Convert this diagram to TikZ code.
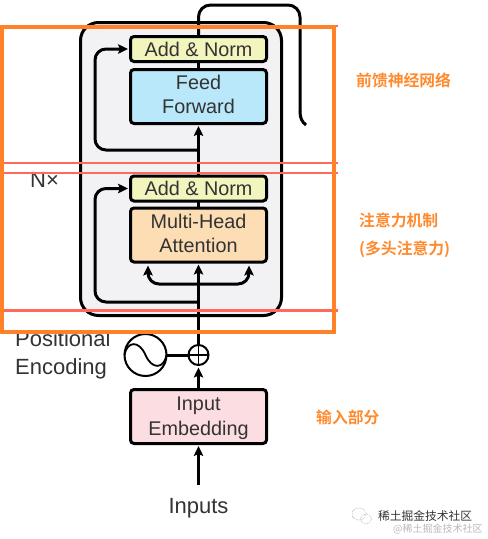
\documentclass[tikz,border=0pt]{standalone}
\usepackage{fontspec}
\setmainfont{Liberation Sans}
\newfontfamily\cjk{Noto Sans CJK SC}[BoldFont={* Bold}]
\usetikzlibrary{arrows.meta}
\definecolor{ink}{HTML}{333333}
\definecolor{frameorange}{HTML}{FF8229}
\definecolor{redline}{HTML}{FF6A5A}
\definecolor{notecol}{HTML}{FF8A2E}
\definecolor{panel}{HTML}{F2F2F5}
\definecolor{normfill}{HTML}{F3F5BE}
\definecolor{fffill}{HTML}{B8E8F9}
\definecolor{mhafill}{HTML}{FCDDB4}
\definecolor{embfill}{HTML}{FCDDE1}
\newcommand{\lineat}[2]{\raisebox{#1}[0pt][0pt]{#2}}
\tikzset{
  x=1pt,y=-1pt,
  block/.style={draw=black,line width=3pt,rounded corners=3.5pt,minimum width=136pt,outer sep=0pt,inner sep=0pt,align=center,text=ink,font=\fontsize{19.8}{24.4}\selectfont},
  normbox/.style={block,minimum height=25pt,fill=normfill},
  tallbox/.style={block,minimum height=54pt},
  wire/.style={draw=black,line width=3pt},
  arrowwire/.style={wire,-{Stealth[length=10pt,width=9.5pt,inset=2pt]},shorten >=2.5pt},
  plain/.style={text=ink,font=\fontsize{22}{28}\selectfont,inner sep=0pt},
  note/.style={text=notecol,font=\cjk\bfseries\fontsize{15.8}{28}\selectfont,inner sep=0pt,align=left},
  redrule/.style={draw=redline,line width=2.4pt},
  mark/.style={text=#1,font=\cjk\fontsize{11.75}{13}\selectfont,inner sep=0pt}
}
\begin{document}
\begin{tikzpicture}
\useasboundingbox (0,0) rectangle (488,539);
% panel
\draw[line width=3pt,fill=panel,rounded corners=18pt] (80.5,22.5) rectangle (281.5,315.5);
% coordinates
\coordinate (branchtop) at (198.5,150);
\coordinate (branchlow) at (198.5,302);
\coordinate (branchatt) at (198.5,284);
\coordinate (inputfoot) at (198.5,485);
\coordinate (loopend) at (306,125);
% nodes
\node[normbox] (an1) at (198.5,49) {Add \& Norm};
\node[tallbox,fill=fffill] (ff) at (198.5,96.5) {\lineat{-5.2pt}{Feed}\\\lineat{-5.2pt}{Forward}};
\node[normbox] (an2) at (198.5,188.5) {Add \& Norm};
\node[tallbox,fill=mhafill] (mha) at (198.5,235) {\lineat{-5.3pt}{Multi-Head}\\\lineat{-5.3pt}{Attention}};
\node[tallbox,fill=embfill] (emb) at (198.5,416.5) {\lineat{-6.5pt}{Input}\\\lineat{-6.5pt}{Embedding}};
\node[circle,draw=black,line width=2pt,minimum size=20pt,inner sep=0pt,outer sep=0pt] (plus) at (198.5,355) {};
\node[circle,draw=black,line width=2pt,minimum size=42pt,inner sep=0pt,outer sep=0pt] (pe) at (145.5,355) {};
\draw[line width=1.6pt] (plus.west) -- (plus.east) (plus.north) -- (plus.south);
\draw[line width=1.8pt] (pe.west) .. controls (127,341) and (139,340) .. (pe.center) .. controls (152,370) and (164,369) .. (pe.east);
% text
\node[plain,anchor=base] (inputs) at (198.5,513) {Inputs};
\node[plain,anchor=base west] (poslabel) at (15,346.7) {Positional};
\node[plain,anchor=base west] (enclabel) at (15,374) {Encoding};
\node[plain,anchor=base west] (nx) at (30,187) {N×};
% connectors
\draw[wire] (mha.north) -- (an2.south);
\draw[wire] (ff.north) -- (an1.south);
\draw[arrowwire] (an2.north) -- (ff.south);
\draw[arrowwire] (plus.north) -- (mha.south);
\draw[wire] (pe.east) -- (plus.west);
\draw[arrowwire] (emb.north) -- (plus.south);
\draw[arrowwire] (inputfoot) -- (emb.south);
\draw[arrowwire,rounded corners=11pt] (branchtop) -- (95,150) -- (95,49) -- (an1.west);
\draw[arrowwire,rounded corners=11pt] (branchlow) -- (95,302) -- (95,188.5) -- (an2.west);
\draw[arrowwire,rounded corners=11pt] (branchatt) -- (148,284) -- (148,263);
\draw[arrowwire,rounded corners=11pt] (branchatt) -- (249,284) -- (249,263);
\draw[wire,rounded corners=12pt] (an1.north) -- (198.5,5) -- (300,5) -- (300,112);
\draw[wire] (300,111.5) .. controls (300,118) and (302,122) .. (loopend);
% overlay rules
\draw[redrule] (0,163) -- (338,163);
\draw[redrule] (0,173) -- (338,173);
\draw[redrule] (0,310.5) -- (338,310.5);
\draw[redrule] (330,26) -- (338,26);
\draw[draw=frameorange,line width=4.5pt] (2,27) rectangle (334,332);
% notes
\node[note,anchor=west] (n1) at (356,80) {前馈神经网络};
\node[note,anchor=west] (n2) at (359,235) {注意力机制\\(多头注意力)};
\node[note,anchor=west] (n3) at (316,417) {输入部分};
% watermark
\draw[gray!70,densely dotted,line width=.6pt] (359,514) ellipse [x radius=7,y radius=6];
\draw[gray!70,densely dotted,line width=.6pt] (366,519) ellipse [x radius=5.5,y radius=5];
\node[mark=ink,anchor=west] (w1) at (378,516) {稀土掘金技术社区};
\node[mark=gray!55,anchor=west,font=\cjk\fontsize{10}{12}\selectfont] (w2) at (393,529.5) {@稀土掘金技术社区};
\end{tikzpicture}
\end{document}
